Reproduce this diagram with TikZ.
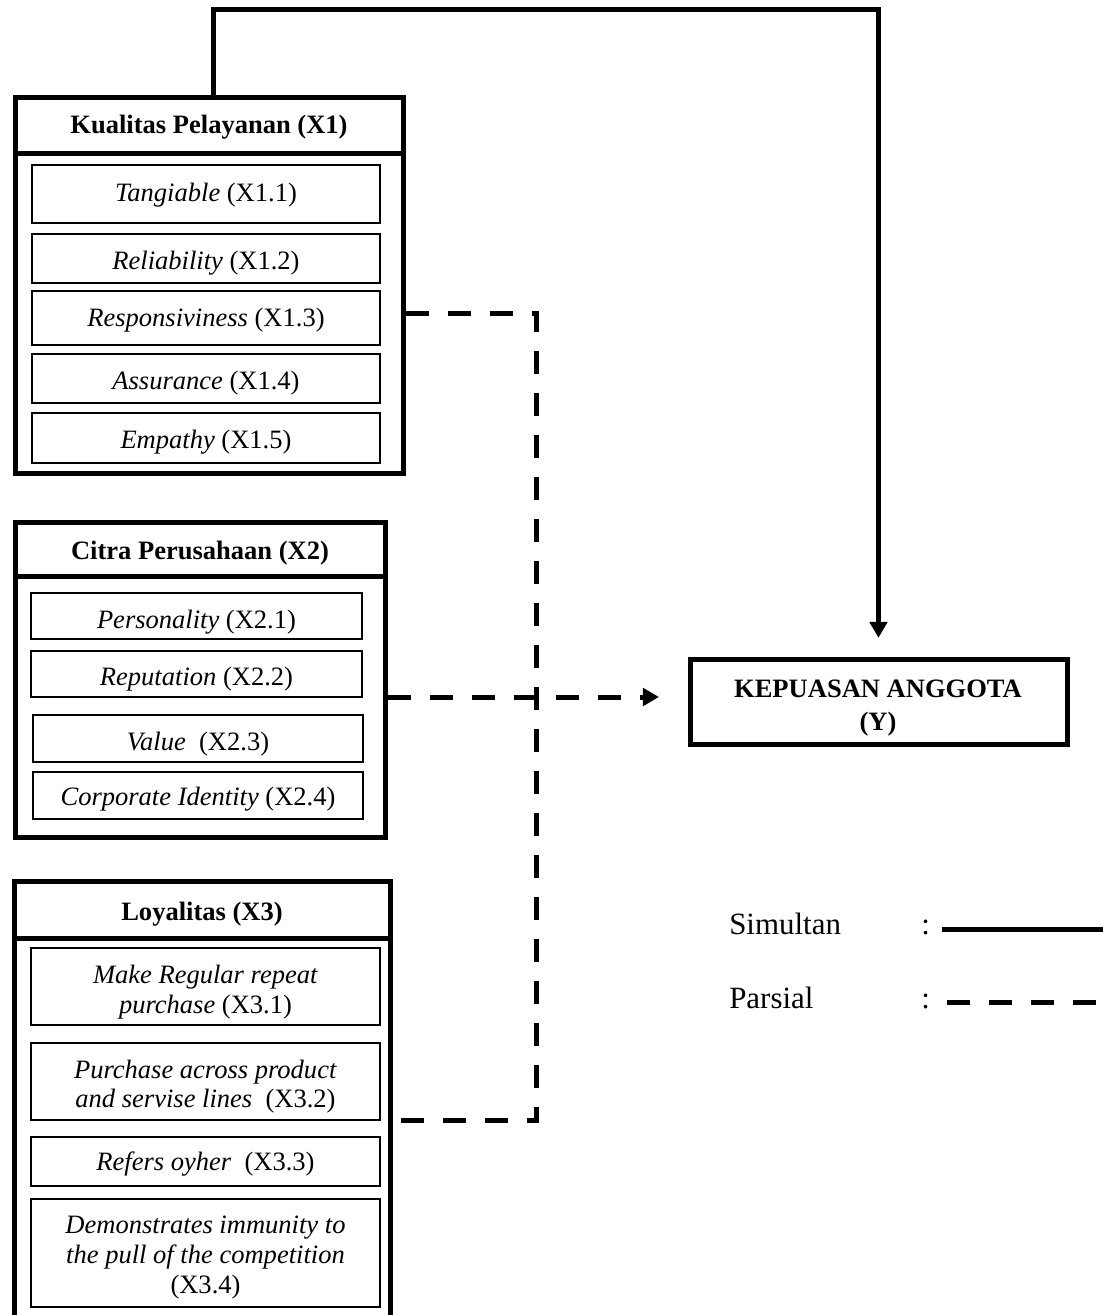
\documentclass[tikz,border=0pt]{standalone}
\usepackage{fontspec}
\setmainfont{Liberation Serif}
\usetikzlibrary{fit,arrows.meta}
\begin{document}
\begin{tikzpicture}[x=0.75pt,y=-0.75pt,
  obox/.style={draw, line width=3.75pt, inner sep=0pt},
  ibox/.style={draw, line width=1.1pt, inner sep=0pt},
  txt/.style={anchor=base, inner sep=0pt, font=\fontsize{19.9}{22.5}\selectfont},
  hd/.style={anchor=base, inner sep=0pt, font=\fontsize{19.9}{22.5}\selectfont\bfseries},
  leg/.style={anchor=base west, inner sep=0pt, font=\fontsize{23.2}{26}\selectfont},
  simul/.style={line width=3.75pt},
  pars/.style={line width=3.75pt, dash pattern=on 17.25pt off 14.25pt},
  arw/.style={-{Triangle[length=12pt,width=13pt]}}
]
\clip (0,0) rectangle (1103,1315);

% ---------- X1 ----------
\node[obox, fit={(15,97) (403,153)}] (x1h) {};
\node[obox, fit={(15,153) (403,473)}] (x1) {};
\node[hd] (x1t) at (209,133) {Kualitas Pelayanan (X1)};
\node[ibox, fit={(32,165) (380,223)}] (x11) {};
\node[ibox, fit={(32,234) (380,283)}] (x12) {};
\node[ibox, fit={(32,291) (380,345)}] (x13) {};
\node[ibox, fit={(32,354) (380,403)}] (x14) {};
\node[ibox, fit={(32,413) (380,463)}] (x15) {};
\node[txt] (x11t) at (x11 |- 0,201) {\textit{Tangiable} (X1.1)};
\node[txt] (x12t) at (x12 |- 0,269) {\textit{Reliability} (X1.2)};
\node[txt] (x13t) at (x13 |- 0,326) {\textit{Responsiviness} (X1.3)};
\node[txt] (x14t) at (x14 |- 0,389) {\textit{Assurance} (X1.4)};
\node[txt] (x15t) at (x15 |- 0,448) {\textit{Empathy} (X1.5)};

% ---------- X2 ----------
\node[obox, fit={(15,522) (385,576)}] (x2h) {};
\node[obox, fit={(15,576) (385,837)}] (x2) {};
\node[hd] (x2t) at (200,559) {Citra Perusahaan (X2)};
\node[ibox, fit={(31,593) (362,639)}] (x21) {};
\node[ibox, fit={(31,651) (362,697)}] (x22) {};
\node[ibox, fit={(33,715) (363,762)}] (x23) {};
\node[ibox, fit={(33,772) (363,819)}] (x24) {};
\node[txt] (x21t) at (x21 |- 0,628) {\textit{Personality} (X2.1)};
\node[txt] (x22t) at (x22 |- 0,685) {\textit{Reputation} (X2.2)};
\node[txt] (x23t) at (x23 |- 0,750) {\textit{Value}\ \ (X2.3)};
\node[txt] (x24t) at (x24 |- 0,805) {\textit{Corporate Identity} (X2.4)};

% ---------- X3 ----------
\node[obox, fit={(14,881) (390,938)}] (x3h) {};
\node[obox, fit={(14,938) (390,1340)}] (x3) {};
\node[hd] (x3t) at (202,920) {Loyalitas (X3)};
\node[ibox, fit={(31,948) (380,1025)}] (x31) {};
\node[ibox, fit={(31,1043) (380,1120)}] (x32) {};
\node[ibox, fit={(31,1137) (380,1186)}] (x33) {};
\node[ibox, fit={(31,1199) (380,1307)}] (x34) {};
\node[txt] (x31a) at (x31 |- 0,983) {\textit{Make Regular repeat}};
\node[txt] (x31b) at (x31 |- 0,1013) {\textit{purchase} (X3.1)};
\node[txt] (x32a) at (x32 |- 0,1078) {\textit{Purchase across product}};
\node[txt] (x32b) at (x32 |- 0,1107) {\textit{and servise lines}\ \ (X3.2)};
\node[txt] (x33t) at (x33 |- 0,1170) {\textit{Refers oyher}\ \ (X3.3)};
\node[txt] (x34a) at (x34 |- 0,1233) {\textit{Demonstrates immunity to}};
\node[txt] (x34b) at (x34 |- 0,1263) {\textit{the pull of the competition}};
\node[txt] (x34c) at (x34 |- 0,1293) {(X3.4)};

% ---------- Y ----------
\node[obox, fit={(690,659) (1067,744)}] (y) {};
\node[hd] (yt1) at (878,697) {KEPUASAN ANGGOTA};
\node[hd] (yt2) at (878,730) {(Y)};

% ---------- connectors ----------
\draw[simul, arw, shorten >=14pt] (213,0 |- x1h.north) -- (213,9) -| (y.north);
\draw[pars] (x1.east |- 0,313) -- (536,313) -- (536,1120) -- (x3.east |- 0,1120);
\draw[pars, arw, shorten >=21.4pt] (x2.east |- 0,697) -- (y.west |- 0,697);

% ---------- legend ----------
\node[leg] (ls) at (729,934) {Simultan};
\node[leg] (lsc) at (921,934) {:};
\node[leg] (lp) at (729,1008) {Parsial};
\node[leg] (lpc) at (921,1008) {:};
\coordinate (l1a) at (942,929);
\coordinate (l1b) at (1103,929);
\coordinate (l2a) at (947,1002);
\coordinate (l2b) at (1103,1002);
\draw[simul] (l1a) -- (l1b);
\draw[pars] (l2a) -- (l2b);
\end{tikzpicture}
\end{document}
